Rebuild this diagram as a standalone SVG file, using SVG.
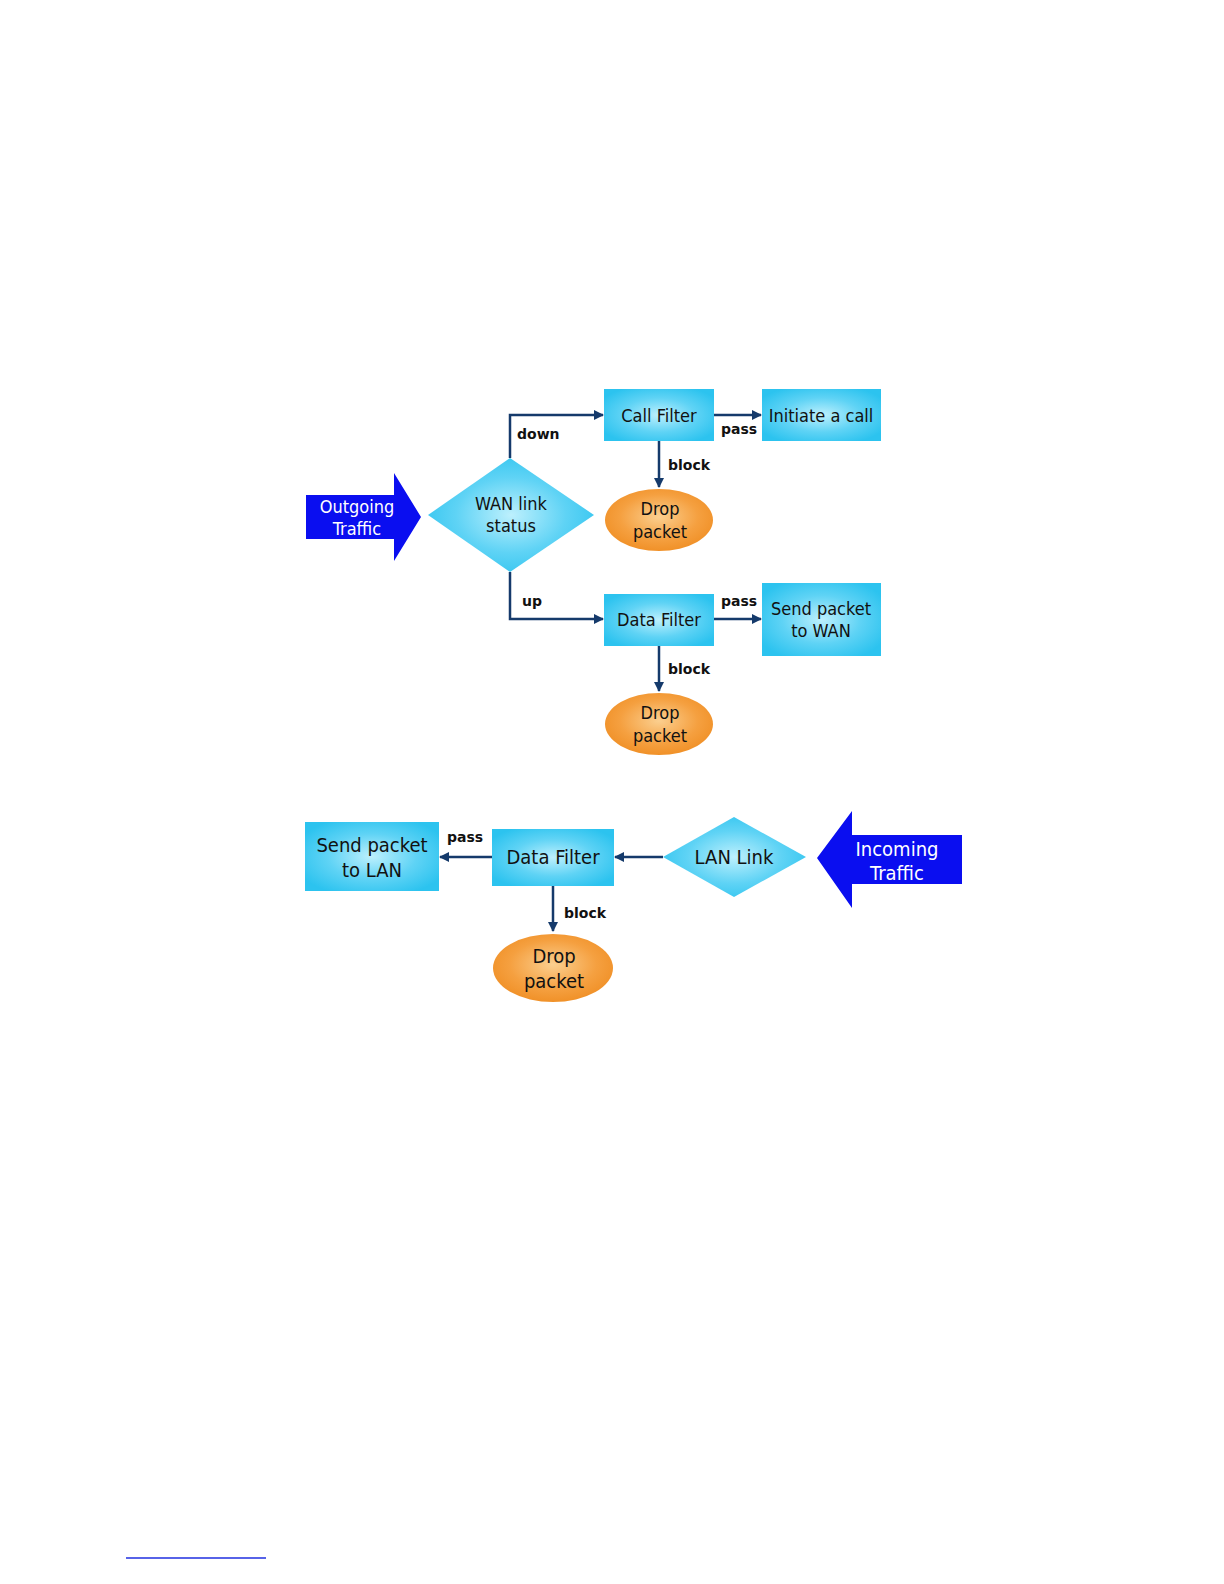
<svg xmlns="http://www.w3.org/2000/svg" width="1224" height="1584" viewBox="0 0 1224 1584">
<defs>
<radialGradient id="cyan" cx="50%" cy="50%" r="60%">
<stop offset="0" stop-color="#bdf0fd"/>
<stop offset="0.55" stop-color="#5fd3f5"/>
<stop offset="1" stop-color="#2cc3ef"/>
</radialGradient>
<radialGradient id="orange" cx="50%" cy="45%" r="60%">
<stop offset="0" stop-color="#fbcf8f"/>
<stop offset="0.6" stop-color="#f5a040"/>
<stop offset="1" stop-color="#ef8d22"/>
</radialGradient>
<marker id="ah2" viewBox="0 0 10 10" refX="9" refY="5" markerWidth="10" markerHeight="10" orient="auto" markerUnits="userSpaceOnUse">
<path d="M0,0 L10,5 L0,10 z" fill="#153a6b"/>
</marker>
</defs>
<style>
.box{fill:url(#cyan)}
.drop{fill:url(#orange)}
.t{font-family:"DejaVu Sans Condensed","DejaVu Sans",sans-serif;font-size:18px;fill:#111;text-anchor:middle}
.tw{font-family:"DejaVu Sans Condensed","DejaVu Sans",sans-serif;font-size:18px;fill:#fff;text-anchor:middle}
.lb{font-family:"DejaVu Sans",sans-serif;font-size:14px;font-weight:bold;fill:#111}
.c{fill:none;stroke:#153a6b;stroke-width:2.5;marker-end:url(#ah2)}
</style>
<rect width="1224" height="1584" fill="#fff"/>

<g id="connectors">
<path class="c" d="M510,458 V415 H603"/>
<path class="c" d="M714,415 H761"/>
<path class="c" d="M659,441 V487"/>
<path class="c" d="M510,572 V619 H603"/>
<path class="c" d="M714,619 H761"/>
<path class="c" d="M659,646 V691"/>
<path class="c" d="M663,857 H615"/>
<path class="c" d="M492,857 H440"/>
<path class="c" d="M553,886 V931"/>
<text class="lb" x="517" y="439">down</text>
<text class="lb" x="721" y="434">pass</text>
<text class="lb" x="668" y="470">block</text>
<text class="lb" x="522" y="606">up</text>
<text class="lb" x="721" y="606">pass</text>
<text class="lb" x="668" y="674">block</text>
<text class="lb" x="447" y="842">pass</text>
<text class="lb" x="564" y="918">block</text>
</g>

<g id="outgoing">
<path d="M306,495 H394 V473 L421,517 L394,561 V539 H306 Z" fill="#0a0ef0"/>
<text class="tw" x="357" y="513">Outgoing</text>
<text class="tw" x="357" y="535">Traffic</text>
</g>
<g id="wan-status">
<path d="M510,458 L594,515 L510,572 L428,515 Z" class="box"/>
<text class="t" x="511" y="510">WAN link</text>
<text class="t" x="511" y="532">status</text>
</g>
<g id="call-filter">
<rect x="604" y="389" width="110" height="52" class="box"/>
<text class="t" x="659" y="422">Call Filter</text>
</g>
<g id="initiate-call">
<rect x="762" y="389" width="119" height="52" class="box"/>
<text class="t" x="821" y="422">Initiate a call</text>
</g>
<g id="drop1">
<ellipse cx="659" cy="520" rx="54" ry="31" class="drop"/>
<text class="t" x="660" y="515">Drop</text>
<text class="t" x="660" y="538">packet</text>
</g>
<g id="data-filter-out">
<rect x="604" y="594" width="110" height="52" class="box"/>
<text class="t" x="659" y="626">Data Filter</text>
</g>
<g id="send-wan">
<rect x="762" y="583" width="119" height="73" class="box"/>
<text class="t" x="821" y="615">Send packet</text>
<text class="t" x="821" y="637">to WAN</text>
</g>
<g id="drop2">
<ellipse cx="659" cy="724" rx="54" ry="31" class="drop"/>
<text class="t" x="660" y="719">Drop</text>
<text class="t" x="660" y="742">packet</text>
</g>

<g id="incoming">
<path d="M962,835 H852 V811 L817,858 L852,908 V884 H962 Z" fill="#0a0ef0"/>
<text class="tw" x="897" y="856" style="font-size:20px">Incoming</text>
<text class="tw" x="897" y="880" style="font-size:20px">Traffic</text>
</g>
<g id="lan-link">
<path d="M734,817 L806,857 L734,897 L663,857 Z" class="box"/>
<text class="t" x="734" y="864" style="font-size:20px">LAN Link</text>
</g>
<g id="data-filter-in">
<rect x="492" y="829" width="122" height="57" class="box"/>
<text class="t" x="553" y="864" style="font-size:20px">Data Filter</text>
</g>
<g id="send-lan">
<rect x="305" y="822" width="134" height="69" class="box"/>
<text class="t" x="372" y="852" style="font-size:20px">Send packet</text>
<text class="t" x="372" y="877" style="font-size:20px">to LAN</text>
</g>
<g id="drop3">
<ellipse cx="553" cy="968" rx="60" ry="34" class="drop"/>
<text class="t" x="554" y="963" style="font-size:20px">Drop</text>
<text class="t" x="554" y="988" style="font-size:20px">packet</text>
</g>

<line x1="126" y1="1558" x2="266" y2="1558" stroke="#1f2fe0" stroke-width="1.5"/>
</svg>
